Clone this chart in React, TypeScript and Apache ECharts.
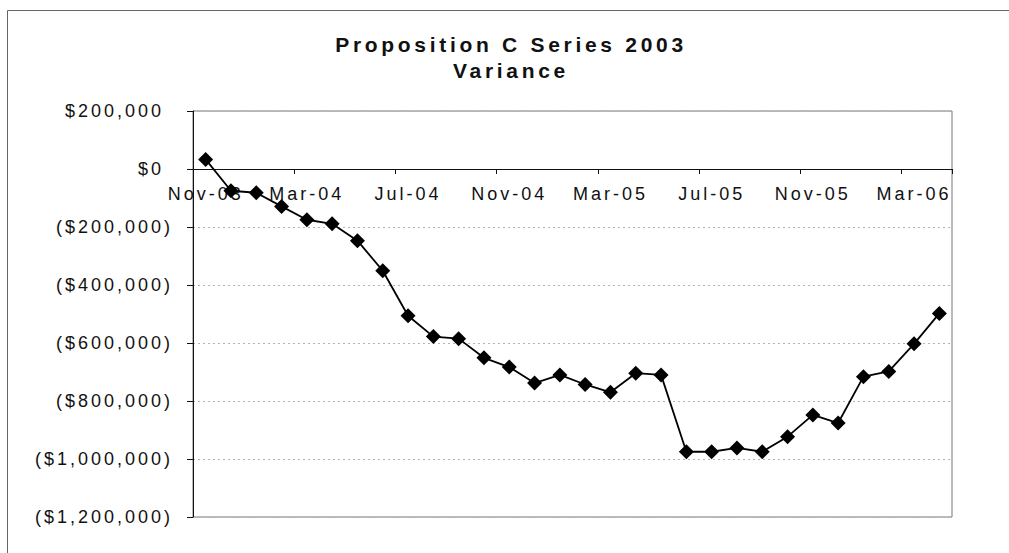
import React, { useEffect, useRef } from "react";
import * as echarts from "echarts";

const months = [
  "Nov-03", "Dec-03", "Jan-04", "Feb-04", "Mar-04", "Apr-04", "May-04", "Jun-04",
  "Jul-04", "Aug-04", "Sep-04", "Oct-04", "Nov-04", "Dec-04", "Jan-05", "Feb-05",
  "Mar-05", "Apr-05", "May-05", "Jun-05", "Jul-05", "Aug-05", "Sep-05", "Oct-05",
  "Nov-05", "Dec-05", "Jan-06", "Feb-06", "Mar-06", "Apr-06",
];

const variance = [
  33000, -75000, -82000, -129000, -175000, -189000, -247000, -351000,
  -506000, -578000, -585000, -651000, -683000, -738000, -710000, -743000,
  -770000, -704000, -710000, -975000, -975000, -962000, -975000, -923000,
  -848000, -876000, -716000, -698000, -603000, -498000,
];

const titleLines = ["Proposition C Series 2003", "Variance"];
const yMin = -1200000;
const yMax = 200000;
const yStep = 200000;

const FONT = "'Liberation Sans', Arial, Helvetica, sans-serif";

const GRID_TOP = 111;
const GRID_BOTTOM = 36;
const CHART_H = 553;

function fmtMoney(v: number): string {
  const s = "$" + Math.abs(v).toLocaleString("en-US");
  if (v < 0) return "{neg|(" + s + ")}";
  return "{pos|" + s + "}";
}

export default function App() {
  const ref = useRef<HTMLDivElement>(null);
  useEffect(() => {
    if (!ref.current) return;
    const chart = echarts.init(ref.current, null, { renderer: "svg" });
    const plotH = CHART_H - GRID_TOP - GRID_BOTTOM;
    const zeroFromBottom = plotH * ((0 - yMin) / (yMax - yMin));
    const labelRich = {
      neg: { fontSize: 18, fontFamily: FONT, color: "#111" },
      pos: { fontSize: 18, fontFamily: FONT, color: "#111", padding: [0, 9, 0, 0] },
    };
    chart.setOption({
      animation: false,
      backgroundColor: "#ffffff",
      title: {
        text: titleLines.join("\n"),
        left: 511,
        textAlign: "center",
        top: 31,
        padding: 0,
        textStyle: {
          fontFamily: FONT,
          fontSize: 21,
          fontWeight: "bold",
          color: "#111",
          lineHeight: 26.6,
        },
      },
      graphic: [
        {
          type: "rect",
          silent: true,
          shape: { x: 7.5, y: 10.5, width: 1020, height: 570 },
          style: { fill: "none", stroke: "#666", lineWidth: 1 },
        },
      ],
      grid: {
        left: 193,
        right: 57,
        top: GRID_TOP,
        bottom: GRID_BOTTOM,
        show: true,
        borderColor: "#777",
        borderWidth: 1,
        backgroundColor: "transparent",
      },
      xAxis: {
        type: "category",
        data: months,
        boundaryGap: true,
        position: "bottom",
        offset: -zeroFromBottom,
        axisLine: { onZero: false, lineStyle: { color: "#111", width: 1 } },
        axisTick: { show: true, interval: 3, alignWithLabel: false, length: 5, lineStyle: { color: "#111" } },
        axisLabel: {
          interval: 3,
          margin: 16,
          fontSize: 18,
          fontFamily: FONT,
          color: "#111",
        },
        splitLine: { show: false },
      },
      yAxis: {
        type: "value",
        min: yMin,
        max: yMax,
        interval: yStep,
        axisLine: { show: true, lineStyle: { color: "#111", width: 1 } },
        axisTick: { show: true, length: 6, lineStyle: { color: "#111" } },
        axisLabel: {
          margin: 20,
          formatter: (v: number) => fmtMoney(v),
          rich: labelRich,
          fontSize: 18,
          fontFamily: FONT,
          color: "#111",
        },
        splitLine: { show: true, lineStyle: { color: "#b4b4b4", width: 1, type: [2, 3] } },
      },
      series: [
        {
          type: "line",
          data: variance,
          symbol: "diamond",
          symbolSize: 15,
          showSymbol: true,
          itemStyle: { color: "#000" },
          lineStyle: { color: "#000", width: 1.8 },
          emphasis: { disabled: true },
        },
      ],
    });
    const texts = ref.current.querySelectorAll("text");
    texts.forEach((t) => {
      const el = t as SVGTextElement;
      const fs = parseFloat(getComputedStyle(el).fontSize);
      el.style.letterSpacing = fs > 19.5 ? "3.7px" : "3px";
    });
    return () => {
      chart.dispose();
    };
  }, []);
  return (
    <div
      ref={ref}
      style={{ position: "fixed", left: 0, top: 0, width: 1009, height: 553, background: "#fff" }}
    />
  );
}
